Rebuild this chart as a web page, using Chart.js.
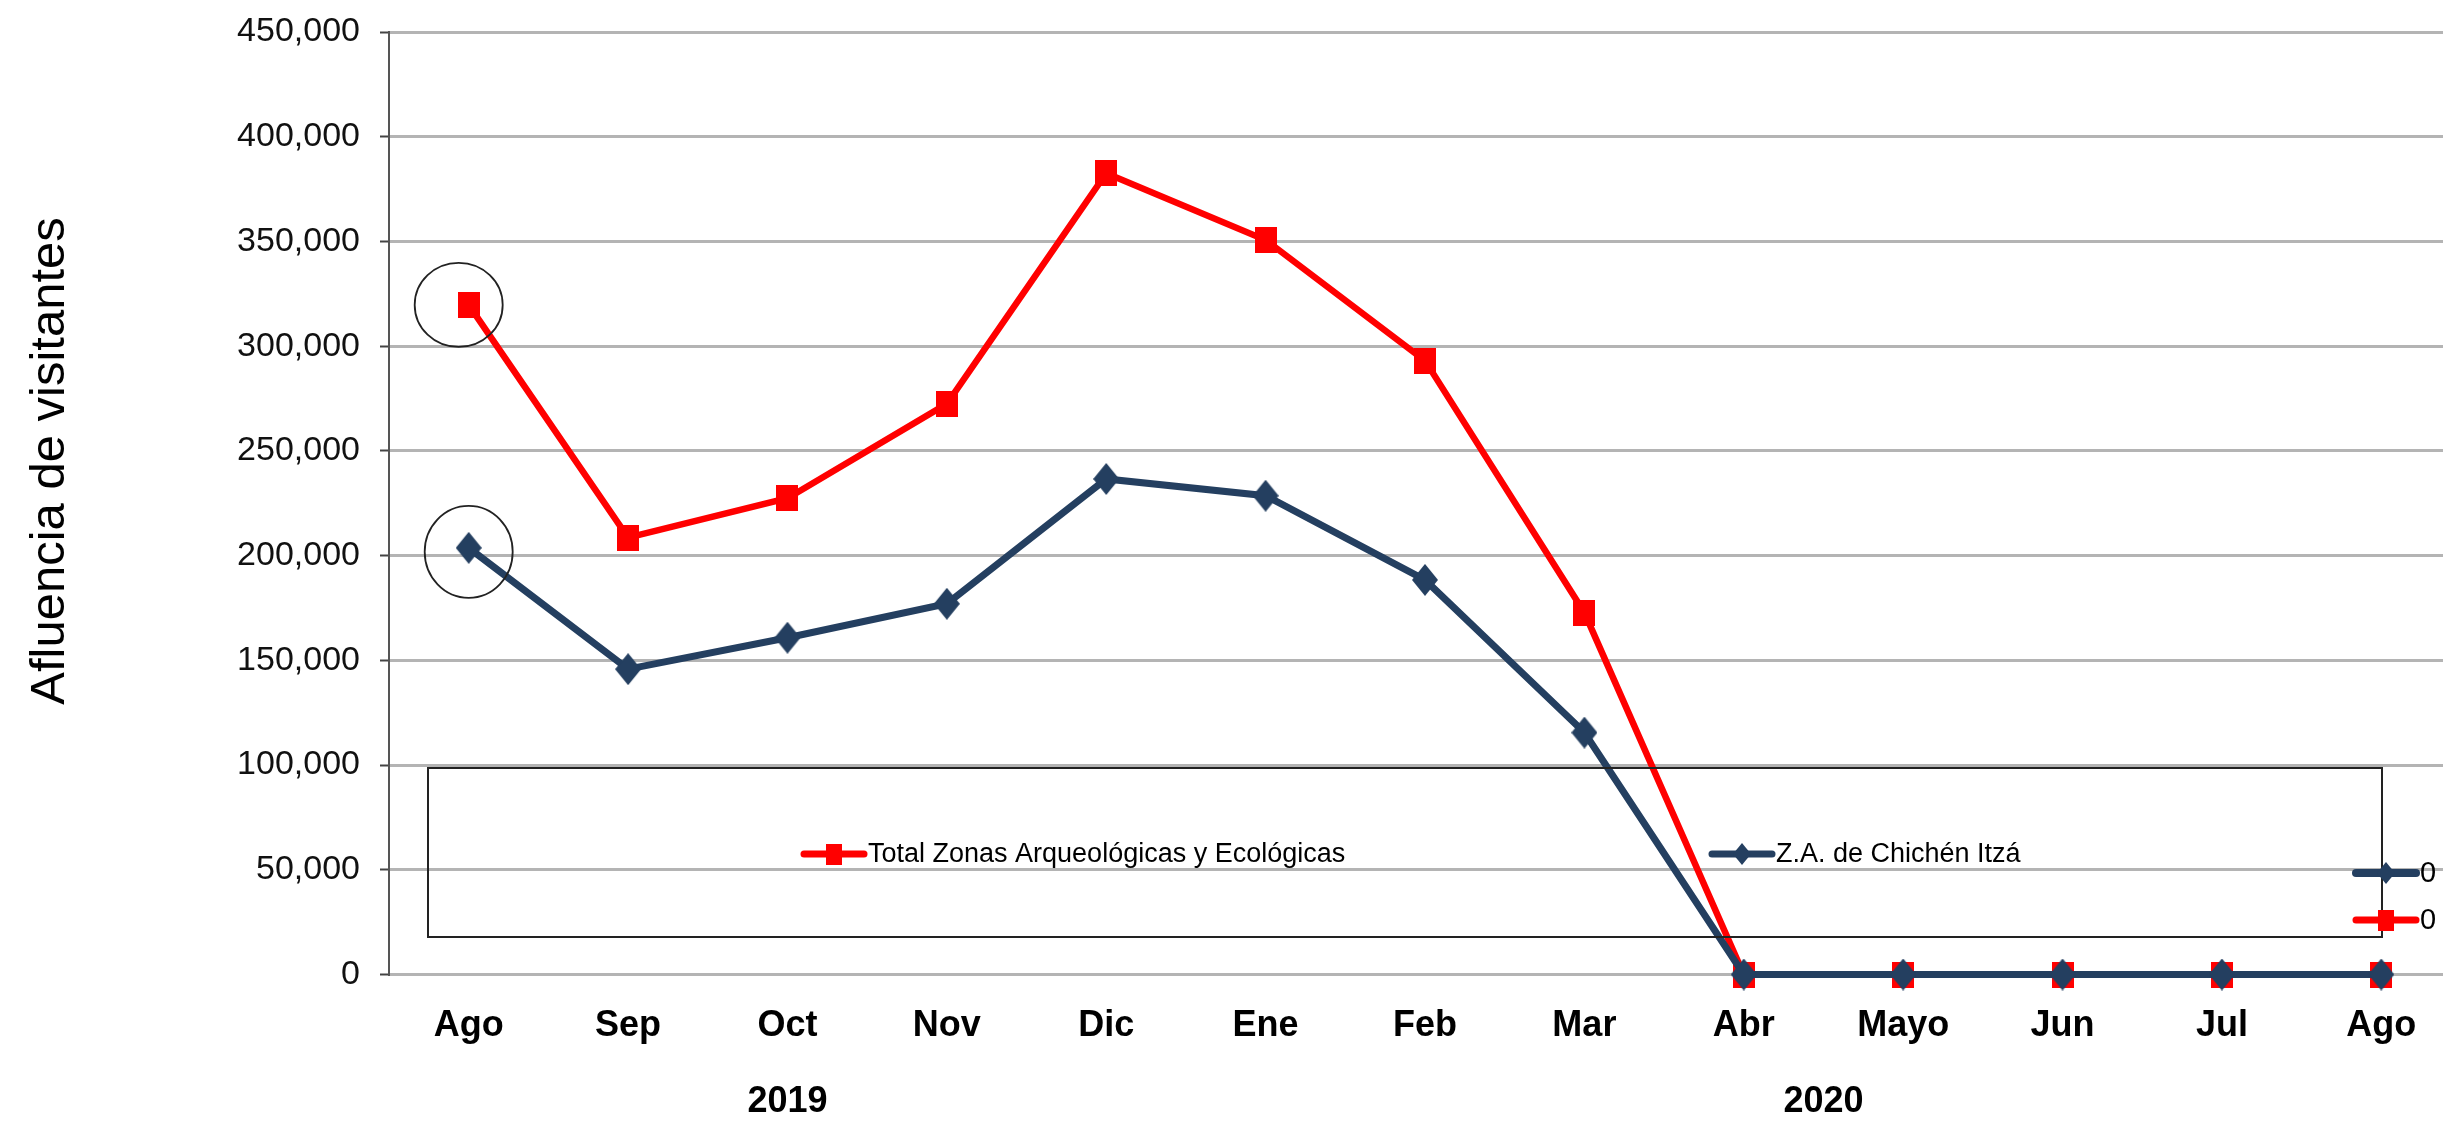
<!DOCTYPE html>
<html><head><meta charset="utf-8">
<script src="https://cdn.jsdelivr.net/npm/chart.js@4.4.1/dist/chart.umd.min.js"></script>
<style>
html,body{margin:0;padding:0;background:#fff;overflow:hidden;width:2443px;height:1121px}
canvas{display:block}
</style></head>
<body>
<canvas id="c" width="2480" height="1121" style="width:2480px;height:1121px"></canvas>
<script>
// ---- data ----
const months = ['Ago','Sep','Oct','Nov','Dic','Ene','Feb','Mar','Abr','Mayo','Jun','Jul','Ago'];
const chichenItza = [203700,145800,160800,177000,236600,228600,188400,115500,0,0,0,0,0];
const totalZonas  = [319700,208600,227400,272500,382600,350700,293100,172800,0,0,0,0,0];
const yearLabels = ['2019','2020'];
const yearSpans = [[2,2],[8,9]];           // category indices each year label is centred under
const seriesNames = ['Z.A. de Chichén Itzá','Total Zonas Arqueológicas y Ecológicas'];
const sideLegendLabels = ['0','0'];
const yAxisTitle = 'Afluencia de visitantes';
const yMin = 0, yMax = 450000, yStep = 50000;

// ---- styles ----
const NAVY = '#243F60', RED = '#FF0000';
const NARROW = '"Liberation Sans Narrow","Arial Narrow","Liberation Sans",Arial,sans-serif';
const REG = '"Liberation Sans",Arial,sans-serif';

function rectMarker(w,h,color){const c=document.createElement('canvas');c.width=w;c.height=h;const x=c.getContext('2d');x.fillStyle=color;x.fillRect(0,0,w,h);return c;}
function diamondMarker(w,h,color){const c=document.createElement('canvas');c.width=w;c.height=h;const x=c.getContext('2d');x.fillStyle=color;x.beginPath();x.moveTo(w/2,0);x.lineTo(w,h/2);x.lineTo(w/2,h);x.lineTo(0,h/2);x.closePath();x.fill();return c;}
const diamondBig = diamondMarker(26,32,NAVY), squareBig = rectMarker(22,26,RED);
const diamondSmall = diamondMarker(18,22,NAVY), squareSmall = rectMarker(16,21,RED);

const decor = {
  id:'decor',
  afterDatasetsDraw(chart){
    const ctx = chart.ctx, xs = chart.scales.x;
    ctx.save();
    // ellipses around first points
    const pB = chart.getDatasetMeta(0).data[0], pR = chart.getDatasetMeta(1).data[0];
    ctx.strokeStyle = '#222'; ctx.lineWidth = 1.8;
    ctx.beginPath(); ctx.ellipse(pR.x-10, pR.y, 44, 42, 0, 0, Math.PI*2); ctx.stroke();
    ctx.beginPath(); ctx.ellipse(pB.x, pB.y+4, 44, 46, 0, 0, Math.PI*2); ctx.stroke();

    // legend box
    ctx.strokeStyle = '#222'; ctx.lineWidth = 2;
    ctx.strokeRect(428, 768, 1954, 169);
    function item(x0, y, color, lw, marker, text, font){
      ctx.strokeStyle = color; ctx.lineWidth = lw; ctx.lineCap='round';
      ctx.beginPath(); ctx.moveTo(x0, y); ctx.lineTo(x0+60, y); ctx.stroke();
      ctx.drawImage(marker, x0+30-marker.width/2, y-marker.height/2);
      ctx.fillStyle = '#000'; ctx.font = font; ctx.textBaseline='middle'; ctx.textAlign='left';
      ctx.fillText(text, x0+64, y+1);
    }
    item(804, 854, RED, 7, squareSmall, seriesNames[1], '27px '+NARROW);
    item(1712, 854, NAVY, 7, diamondSmall, seriesNames[0], '27px '+NARROW);
    // side legend (cut off by the page edge)
    item(2356, 873, NAVY, 8, diamondSmall, sideLegendLabels[0], '29px '+REG);
    item(2356, 920, RED, 7, squareSmall, sideLegendLabels[1], '29px '+REG);

    // year labels
    ctx.fillStyle='#000'; ctx.font='bold 36px '+NARROW; ctx.textAlign='center'; ctx.textBaseline='middle';
    yearLabels.forEach((t,i)=>{
      const x = (xs.getPixelForValue(yearSpans[i][0]) + xs.getPixelForValue(yearSpans[i][1]))/2;
      ctx.fillText(t, x, 1102);
    });
    // y-axis title
    ctx.translate(50, 461); ctx.rotate(-Math.PI/2);
    ctx.font = '49px '+REG; ctx.fillStyle='#000';
    ctx.fillText(yAxisTitle, 0, 0);
    ctx.restore();
  }
};

new Chart(document.getElementById('c'), {
  type:'line',
  data:{
    labels: months,
    datasets:[
      {label:seriesNames[0], data:chichenItza, borderColor:NAVY, backgroundColor:NAVY, borderWidth:7,
       pointStyle:diamondBig, pointRadius:12, tension:0, clip:false},
      {label:seriesNames[1], data:totalZonas, borderColor:RED, backgroundColor:RED, borderWidth:6.5,
       pointStyle:squareBig, pointRadius:12, tension:0, clip:false}
    ]
  },
  options:{
    responsive:false, animation:false, devicePixelRatio:1,
    layout:{padding:{left:0, top:32, right:14, bottom:0}},
    plugins:{legend:{display:false}, tooltip:{enabled:false}},
    scales:{
      x:{
        offset:true,
        grid:{display:false, drawTicks:false},
        border:{display:false},
        ticks:{padding:30, color:'#000', font:{family:NARROW, size:36, weight:'bold'}, maxRotation:0, autoSkip:false},
        afterFit(s){ s.height = 146.5; s.paddingLeft = 0; s.paddingRight = 0; }
      },
      y:{
        min:yMin, max:yMax,
        grid:{color:'#b4b4b4', lineWidth:3, tickLength:9, tickColor:'#444', tickWidth:2},
        border:{display:true, color:'#555', width:2},
        ticks:{stepSize:yStep, padding:20, color:'#111', font:{family:NARROW, size:34},
               callback:v=>v.toLocaleString('en-US')},
        afterFit(s){ s.width = 389; s.paddingTop = 0; s.paddingBottom = 0; }
      }
    }
  },
  plugins:[decor]
});
</script>
</body></html>
